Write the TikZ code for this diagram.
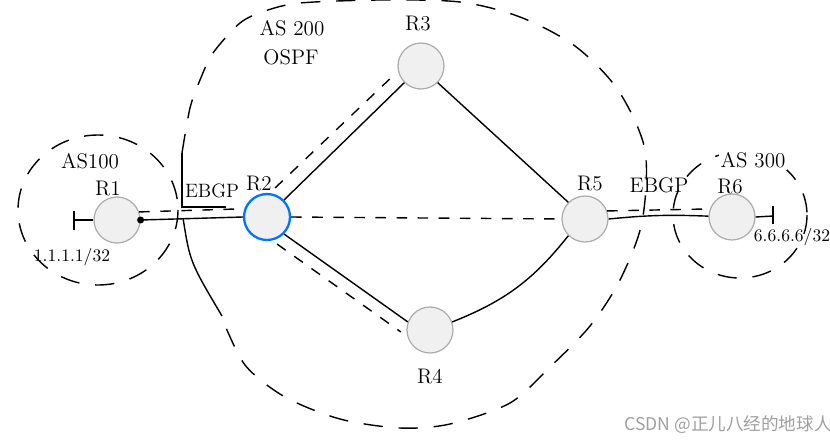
\documentclass[tikz,border=0pt]{standalone}
\usepackage{fontspec}
\newfontfamily\cjkfont{Noto Sans CJK SC}
\usetikzlibrary{calc}

\begin{document}
\begin{tikzpicture}[x=0.02cm, y=-0.02cm,
        router/.style={circle, draw=gray!65, fill=gray!12, line width=0.7pt, minimum size=0.92cm, inner sep=0pt},
        lbl/.style={font=\large},
        wire/.style={line width=0.8pt},
        dline/.style={line width=0.8pt, dash pattern=on 6pt off 6pt},
        area/.style={line width=0.8pt, dash pattern=on 11pt off 9pt}]
        \useasboundingbox (0,0) rectangle (830,443);

        % AS areas
        \draw[area] (98,210) ellipse [x radius=80, y radius=75];
        \draw[area] (740,215) ellipse [x radius=67, y radius=63];
        \draw[area] plot[smooth] coordinates {(182,153) (190,108) (200,80) (213,53) (240,23) (265,11) (300,3)
            (380,0) (460,2) (520,17) (575,46) (618,90) (645,150) (642,222) (620,280) (590,326) (550,367)
            (510,403) (450,424) (400,428) (340,419) (285,397) (245,365) (222,318)};

        % Routers
        \node[router] (R1) at (117,220) {};
        \node[router, draw=blue!55!cyan, line width=1.3pt] (R2) at (267,217) {};
        \node[router] (R3) at (421,66) {};
        \node[router] (R4) at (430,330) {};
        \node[router] (R5) at (585,219) {};
        \node[router] (R6) at (732,217) {};

        % Router names
        \node[lbl] (tR1) at (108,189) {R1};
        \node[lbl] (tR2) at (259,184) {R2};
        \node[lbl] (tR3) at (418,24) {R3};
        \node[lbl] (tR4) at (430,377) {R4};
        \node[lbl] (tR5) at (590,184) {R5};
        \node[lbl] (tR6) at (730,187) {R6};

        % Area labels
        \node[lbl] (as1) at (90,161) {AS100};
        \node[lbl] (as2) at (292,28) {AS 200};
        \node[lbl] (ospf) at (291,57) {OSPF};
        \node[lbl, fill=white, inner sep=1pt] (as3) at (753,160) {AS 300};
        \node[font=\fontsize{11}{13}\selectfont] (eb1) at (212,191) {EBGP};
        \node[lbl] (eb2) at (659,185) {EBGP};
        \node[font=\normalsize] (ip1) at (72,257) {1.1.1.1/32};
        \node[font=\normalsize] (ip6) at (792,237) {6.6.6.6/32};

        % Loopbacks
        \coordinate (lo1) at (74,220);
        \coordinate (lo6) at (773,216);
        \draw[wire] (R1.west) -- (lo1);
        \draw[wire] ($(lo1)+(0,-9)$) -- ($(lo1)+(0,10)$);
        \draw[wire] (R6.east) -- (lo6);
        \draw[wire] ($(lo6)+(0,-10)$) -- ($(lo6)+(0,8)$);

        % Links
        \draw[wire] (R1.east) -- (R2.west);
        \fill (R1.east) circle [radius=3.5];
        \draw[dline] (R1.20) -- (R2.160);
        \draw[wire] (R2.45) -- (R3.225);
        \draw[dline] ($(R2.45)+(-9,-12)$) -- ($(R3.225)+(-9,-9)$);
        \draw[wire] (R3.-45) -- (R5.135);
        \draw[wire] (R2.-45) -- (R4.160);
        \draw[dline] ($(R2.-45)+(-7,10)$) -- ($(R4.160)+(-7,10)$);
        \draw[wire] (R4.20) to[bend right=15] (R5.-135);
        \draw[dline] (R2.east) -- (R5.west);
        \draw[wire] (R5.east) to[bend left=4] (R6.178);
        \draw[dline] (R5.20) -- (R6.160);

        % EBGP boundary (left)
        \coordinate (b1) at (182,153);
        \coordinate (b2) at (182,207);
        \coordinate (b3) at (226,207);
        \draw[wire] (b1) -- (b2) -- (b3);
        \draw[wire] (183,218) .. controls (190,262) .. (222,316);

        % Watermark
        \node[text=gray!75, font=\cjkfont\fontsize{10}{12}\selectfont] (wm) at (728,425) {CSDN @正儿八经的地球人};
\end{tikzpicture}
\end{document}
